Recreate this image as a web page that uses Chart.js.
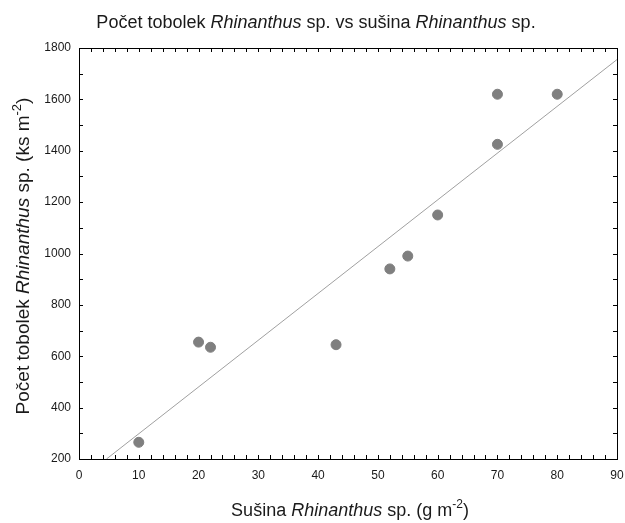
<!DOCTYPE html>
<html>
<head>
<meta charset="utf-8">
<script src="https://cdn.jsdelivr.net/npm/chart.js@4.4.1/dist/chart.umd.min.js"></script>
<style>
  html, body { margin: 0; padding: 0; background: #fff; }
  #wrap { width: 625px; height: 523px; position: relative; }
</style>
</head>
<body>
<div id="wrap"><canvas id="chart"></canvas></div>
<script>
// Dry mass of Rhinanthus sp. (g m-2) and capsule count (ks m-2)
const susina = [10, 20, 22, 43, 52, 55, 60, 70, 70, 80];
const tobolky = [265, 655, 635, 645, 940, 990, 1150, 1620, 1425, 1620];

// Fitted regression line, end points
const fitX = [4.6, 90];
const fitY = [200, 1755];

// Axis ranges and tick steps
const xRange = [0, 90];
const yRange = [200, 1800];
const xMajor = 10, xMinor = 2;
const yMajor = 200, yMinor = 100;

const FONT = '"Liberation Sans", Arial, sans-serif';

// Draw a line of text made of plain / italic / superscript pieces
function richText(ctx, parts, x, y, size, rotate) {
  ctx.save();
  ctx.translate(x, y);
  if (rotate) ctx.rotate(-Math.PI / 2);
  const fontFor = p => (p.italic ? 'italic ' : '') + (p.sup ? Math.round(size * 0.68) : size) + 'px ' + FONT;
  let total = 0;
  parts.forEach(p => { ctx.font = fontFor(p); total += ctx.measureText(p.t).width; });
  let cx = -total / 2;
  ctx.fillStyle = '#1a1a1a';
  ctx.textBaseline = 'alphabetic';
  ctx.textAlign = 'left';
  parts.forEach(p => {
    ctx.font = fontFor(p);
    ctx.fillText(p.t, cx, p.sup ? -size * 0.42 : 0);
    cx += ctx.measureText(p.t).width;
  });
  ctx.restore();
}

const framePlugin = {
  id: 'frameAndTitles',
  afterDraw(chart) {
    const ctx = chart.ctx;
    const a = chart.chartArea;
    const xs = chart.scales.x, ys = chart.scales.y;
    ctx.save();
    // frame
    ctx.strokeStyle = '#000';
    ctx.lineWidth = 1;
    ctx.strokeRect(Math.round(a.left) + 0.5, Math.round(a.top) + 0.5,
                   Math.round(a.right - a.left), Math.round(a.bottom - a.top));
    // inward ticks on all four sides
    const tl = 4;
    ctx.beginPath();
    for (let v = xRange[0] + xMinor; v < xRange[1]; v += xMinor) {
      const px = Math.round(xs.getPixelForValue(v)) + 0.5;
      ctx.moveTo(px, a.bottom); ctx.lineTo(px, a.bottom - tl);
      ctx.moveTo(px, a.top); ctx.lineTo(px, a.top + tl);
    }
    for (let v = yRange[0] + yMinor; v < yRange[1]; v += yMinor) {
      const py = Math.round(ys.getPixelForValue(v)) + 0.5;
      ctx.moveTo(a.left, py); ctx.lineTo(a.left + tl, py);
      ctx.moveTo(a.right, py); ctx.lineTo(a.right - tl, py);
    }
    ctx.stroke();
    ctx.restore();

    // titles
    richText(ctx, [
      { t: 'Počet tobolek ' }, { t: 'Rhinanthus', italic: true },
      { t: ' sp. vs sušina ' }, { t: 'Rhinanthus', italic: true }, { t: ' sp.' }
    ], 316, 28, 18);
    richText(ctx, [
      { t: 'Sušina ' }, { t: 'Rhinanthus', italic: true }, { t: ' sp. (g m' },
      { t: '-2', sup: true }, { t: ')' }
    ], 350, 516, 18);
    richText(ctx, [
      { t: 'Počet tobolek ' }, { t: 'Rhinanthus', italic: true }, { t: ' sp. (ks m' },
      { t: '-2', sup: true }, { t: ')' }
    ], 29, 256, 19, true);
  }
};

new Chart(document.getElementById('chart'), {
  type: 'scatter',
  data: {
    datasets: [
      {
        label: 'Počet tobolek',
        data: susina.map((x, i) => ({ x, y: tobolky[i] })),
        backgroundColor: '#7f7f7f',
        borderColor: '#7f7f7f',
        pointRadius: 5,
        pointHoverRadius: 5,
        order: 1
      },
      {
        type: 'line',
        label: 'Regrese',
        data: fitX.map((x, i) => ({ x, y: fitY[i] })),
        borderColor: '#a0a0a0',
        borderWidth: 1,
        pointRadius: 0,
        fill: false,
        clip: true,
        order: 2
      }
    ]
  },
  options: {
    responsive: true,
    maintainAspectRatio: false,
    animation: false,
    devicePixelRatio: 1,
    layout: { padding: { top: 48, right: 8, left: 0, bottom: 0 } },
    plugins: {
      legend: { display: false },
      tooltip: { enabled: false },
      title: { display: false }
    },
    scales: {
      x: {
        type: 'linear',
        min: xRange[0], max: xRange[1],
        grid: { display: false, drawTicks: false },
        border: { display: false },
        ticks: {
          stepSize: xMajor, padding: 9, maxRotation: 0,
          color: '#1a1a1a', font: { family: FONT, size: 12 },
          callback: v => String(v)
        },
        afterFit(s) { s.height = 64; s.paddingLeft = 0; s.paddingRight = 0; }
      },
      y: {
        type: 'linear',
        min: yRange[0], max: yRange[1],
        grid: { display: false, drawTicks: false },
        border: { display: false },
        ticks: {
          stepSize: yMajor, padding: 8,
          color: '#1a1a1a', font: { family: FONT, size: 12 },
          callback: v => String(v)
        },
        afterFit(s) { s.width = 79; s.paddingTop = 0; s.paddingBottom = 0; }
      }
    }
  },
  plugins: [framePlugin]
});
</script>
</body>
</html>
